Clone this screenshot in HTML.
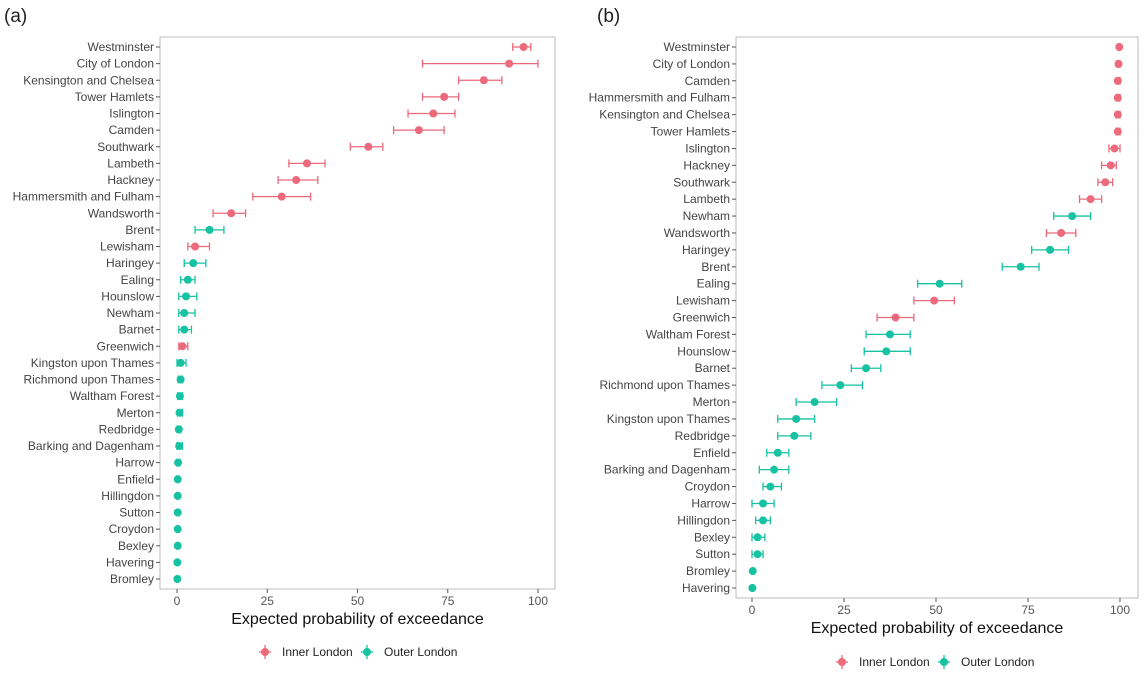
<!DOCTYPE html>
<html><head><meta charset="utf-8"><style>
body{margin:0;background:#fff;font-family:"Liberation Sans",sans-serif}
svg text{font-family:"Liberation Sans",sans-serif}
</style></head><body>
<svg id="chart" width="1147" height="671" viewBox="0 0 1147 671" xmlns="http://www.w3.org/2000/svg">
<text x="4" y="22" font-size="19" fill="#222">(a)</text>
<text x="597" y="22" font-size="19" fill="#222">(b)</text>
</svg>
<script>
const namesA=["Westminster","City of London","Kensington and Chelsea","Tower Hamlets","Islington","Camden","Southwark","Lambeth","Hackney","Hammersmith and Fulham","Wandsworth","Brent","Lewisham","Haringey","Ealing","Hounslow","Newham","Barnet","Greenwich","Kingston upon Thames","Richmond upon Thames","Waltham Forest","Merton","Redbridge","Barking and Dagenham","Harrow","Enfield","Hillingdon","Sutton","Croydon","Bexley","Havering","Bromley"];
const valA=[96,92,85,74,71,67,53,36,33,29,15,9,5,4.5,3,2.5,2,2,1.5,1,1,0.8,0.7,0.5,0.6,0.3,0.2,0.2,0.2,0.2,0.2,0.1,0.1];
const loA=[93,68,78,68,64,60,48,31,28,21,10,5,3,2,1,0.5,0.5,0.5,0.5,0,0.3,0.2,0.2,0.1,0,0,0,0,0,0,0,0,0];
const hiA=[98,100,90,78,77,74,57,41,39,37,19,13,9,8,5,5.5,5,4,3,2.5,1.5,1.5,1.5,1,1.5,0.8,0.5,0.5,0.5,0.5,0.5,0.3,0.3];
const grpA=["I","I","I","I","I","I","I","I","I","I","I","O","I","O","O","O","O","O","I","O","O","O","O","O","O","O","O","O","O","O","O","O","O"];
const namesB=["Westminster","City of London","Camden","Hammersmith and Fulham","Kensington and Chelsea","Tower Hamlets","Islington","Hackney","Southwark","Lambeth","Newham","Wandsworth","Haringey","Brent","Ealing","Lewisham","Greenwich","Waltham Forest","Hounslow","Barnet","Richmond upon Thames","Merton","Kingston upon Thames","Redbridge","Enfield","Barking and Dagenham","Croydon","Harrow","Hillingdon","Bexley","Sutton","Bromley","Havering"];
const valB=[99.8,99.6,99.4,99.4,99.4,99.4,98.5,97.5,96,92,87,84,81,73,51,49.5,39,37.5,36.5,31,24,17,12,11.5,7,6,5,3,3,1.5,1.5,0.2,0.1];
const loB=[99.5,99.2,99,99,99,99,97,95,94,89,82,80,76,68,45,44,34,31,30.5,27,19,12,7,7,4,2,3,0,1,0,0,0,0];
const hiB=[100,100,100,100,100,100,100,99,98,95,92,88,86,78,57,55,44,43,43,35,30,23,17,16,10,10,8,6,5,3.5,3,0.5,0.3];
const grpB=["I","I","I","I","I","I","I","I","I","I","O","I","O","O","O","I","I","O","O","O","O","O","O","O","O","O","O","O","O","O","O","O","O"];
const ticks=[0,25,50,75,100];
const COL={I:"#ec6a7b",O:"#16c2a2"};
const svg=document.getElementById('chart');
const NS="http://www.w3.org/2000/svg";
function mk(t,a,p){const e=document.createElementNS(NS,t);for(const k in a)e.setAttribute(k,a[k]);(p||svg).appendChild(e);return e;}
function panel(P){
  const g=mk('g',{});
  
  
  const x=v=>P.x0+(P.x1-P.x0)*v/100;
  const n=P.names.length;
  const y=i=>P.y0+(P.y1-P.y0)*i/(n-1);
  const box=mk('rect',{x:P.bl,y:P.bt,width:P.br-P.bl,height:P.bb-P.bt,fill:'#fff',stroke:'#bbb','stroke-width':1},g);
  
  
  ticks.forEach(t=>{
    mk('line',{x1:x(t),x2:x(t),y1:P.bb,y2:P.bb+4,stroke:'#555'},g);
    const tx=mk('text',{x:x(t),y:P.bb+16,'font-size':12,fill:'#555','text-anchor':'middle'},g);tx.textContent=t;
    
    
  });
  const at=mk('text',{x:(P.bl+P.br)/2,y:P.bb+35,'font-size':16,fill:'#111','text-anchor':'middle'},g);at.textContent='Expected probability of exceedance';
  
  
  P.names.forEach((nm,i)=>{
    const yy=y(i);
    mk('line',{x1:P.bl-4,x2:P.bl,y1:yy,y2:yy,stroke:'#555'},g);
    const t=mk('text',{x:P.bl-6,y:yy+4,'font-size':12,fill:'#444','text-anchor':'end'},g);t.textContent=nm;
    
    
    const c=COL[P.grp[i]];
    const eg=mk('g',{stroke:c,'stroke-width':1.3},g);
    
    
    mk('line',{x1:x(P.lo[i]),x2:x(P.hi[i]),y1:yy,y2:yy},eg);
    mk('line',{x1:x(P.lo[i]),x2:x(P.lo[i]),y1:yy-4,y2:yy+4},eg);
    mk('line',{x1:x(P.hi[i]),x2:x(P.hi[i]),y1:yy-4,y2:yy+4},eg);
    const p=mk('circle',{cx:x(P.val[i]),cy:yy,r:4,fill:c},g);
    
    
  });
  // legend
  const lg=mk('g',{},g);
  
  
  [["I","Inner London",P.lx],["O","Outer London",P.lx+102]].forEach(([k,l,lx])=>{
    const e=mk('g',{},lg);
    
    
    mk('line',{x1:lx,x2:lx,y1:P.ly-7,y2:P.ly+7,stroke:COL[k],'stroke-width':1.3},e);
    mk('line',{x1:lx-6,x2:lx+6,y1:P.ly,y2:P.ly,stroke:COL[k],'stroke-width':1.3},e);
    mk('circle',{cx:lx,cy:P.ly,r:4,fill:COL[k]},e);
    const t=mk('text',{x:lx+17,y:P.ly+4,'font-size':12,fill:'#222'},e);t.textContent=l;
  });
}
panel({id:'panel-a',names:namesA,val:valA,lo:loA,hi:hiA,grp:grpA,x0:177,x1:538,y0:47,y1:579,bl:160,br:555,bt:37,bb:589,lx:265,ly:652});
panel({id:'panel-b',names:namesB,val:valB,lo:loB,hi:hiB,grp:grpB,x0:752,x1:1120,y0:47,y1:588,bl:736,br:1138,bt:37,bb:598,lx:842,ly:662});
</script>
</body></html>
